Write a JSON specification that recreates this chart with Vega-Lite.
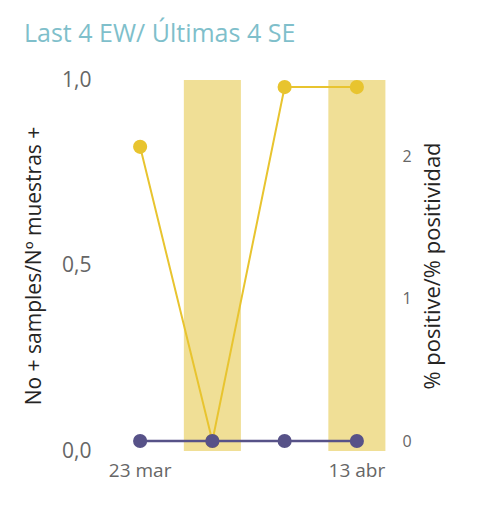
{
  "$schema": "https://vega.github.io/schema/vega-lite/v6.json",
  "width": 289,
  "height": 371,
  "autosize": {"type": "none"},
  "padding": {"left": 104, "top": 80, "right": 92, "bottom": 62},
  "background": "white",
  "config": {
    "view": {"stroke": null},
    "font": "Open Sans",
    "axis": {"grid": false, "domain": false, "ticks": false, "labelColor": "#666666", "titleColor": "#252423", "titleFontWeight": "normal", "labelFont": "Open Sans", "titleFont": "Open Sans"},
    "axisRight": {"labelFontSize": 16, "labelPadding": 9, "titleFontSize": 22, "titleAngle": -90, "titleBaseline": "top", "titlePadding": 11}
  },
  "title": {
    "text": "Last 4 EW/ Últimas 4 SE",
    "anchor": "start",
    "frame": "group",
    "dx": -80,
    "offset": 22,
    "fontSize": 25,
    "fontWeight": "normal",
    "color": "#7FBFCB",
    "font": "Open Sans"
  },
  "data": {
    "values": [
      {"semana": "23 mar", "muestras": 0, "positividad": 2.07, "otro": 0},
      {"semana": "30 mar", "muestras": 1, "positividad": 0, "otro": 0},
      {"semana": "6 abr", "muestras": 0, "positividad": 2.49, "otro": 0},
      {"semana": "13 abr", "muestras": 1, "positividad": 2.49, "otro": 0}
    ]
  },
  "encoding": {
    "x": {
      "field": "semana",
      "type": "ordinal",
      "sort": ["23 mar", "30 mar", "6 abr", "13 abr"],
      "scale": {"paddingInner": 0.21, "paddingOuter": 0.105},
      "axis": {"title": null, "values": ["23 mar", "13 abr"], "labelAngle": 0, "labelFontSize": 19, "labelPadding": 10}
    }
  },
  "layer": [
    {
      "mark": {"type": "bar", "color": "#F0DF96"},
      "encoding": {
        "y": {
          "field": "muestras",
          "type": "quantitative",
          "scale": {"domain": [0, 1], "nice": false},
          "axis": {"title": "No + samples/Nº muestras +", "values": [0, 0.5, 1], "format": ".1f", "labelExpr": "replace(datum.label, '.', ',')", "labelFontSize": 21, "labelPadding": 13, "titleFontSize": 21, "titlePadding": 17}
        }
      }
    },
    {
      "layer": [
        {
          "mark": {"type": "line", "color": "#E8C42F", "strokeWidth": 2},
          "encoding": {
            "y": {"field": "positividad", "type": "quantitative", "scale": {"domain": [-0.07, 2.54], "nice": false, "zero": false},
              "axis": {"orient": "right", "title": "% positive/% positividad", "values": [0, 1, 2], "format": "d"}}
          }
        },
        {
          "mark": {"type": "point", "filled": true, "opacity": 1, "size": 200, "color": "#E8C42F"},
          "encoding": {
            "y": {"field": "positividad", "type": "quantitative", "axis": {"orient": "right", "title": "% positive/% positividad", "values": [0, 1, 2], "format": "d"}}
          }
        },
        {
          "mark": {"type": "line", "color": "#575288", "strokeWidth": 2.5},
          "encoding": {
            "y": {"field": "otro", "type": "quantitative", "axis": {"orient": "right", "title": "% positive/% positividad", "values": [0, 1, 2], "format": "d"}}
          }
        },
        {
          "mark": {"type": "point", "filled": true, "opacity": 1, "size": 200, "color": "#575288"},
          "encoding": {
            "y": {"field": "otro", "type": "quantitative", "axis": {"orient": "right", "title": "% positive/% positividad", "values": [0, 1, 2], "format": "d"}}
          }
        }
      ]
    }
  ],
  "resolve": {"scale": {"y": "independent"}}
}
